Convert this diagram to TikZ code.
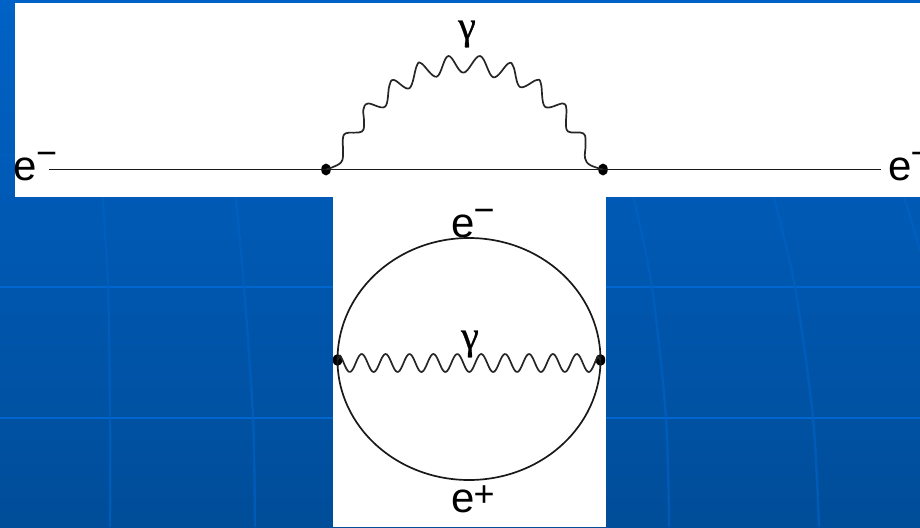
\documentclass[tikz,border=0pt]{standalone}
\usepackage{fontspec}
\setmainfont{Liberation Sans}
\newfontfamily\gammafont[FakeBold=0.7]{Liberation Serif}
\usetikzlibrary{shapes.geometric}
\definecolor{bgtop}{RGB}{0,98,198}
\definecolor{bgbot}{RGB}{0,77,153}
\definecolor{gridh}{RGB}{0,102,208}
\definecolor{gridv}{RGB}{0,96,192}
\newcommand{\elabel}[2]{e\kern-1pt\raisebox{#2}{\fontsize{36}{36}\selectfont #1}}
\tikzset{
  x=1pt,y=-1pt,
  panel/.style={fill=white,draw=none},
  gridline/.style={gridh,line width=2.6pt},
  gridcurve/.style={gridv,line width=2.4pt,opacity=0.75},
  fermion/.style={black!90,line width=1.7pt},
  photon/.style={black!85,line width=1.7pt,line join=round},
  vertexdot/.style={ellipse,fill=black,draw=none,minimum width=9.5pt,minimum height=12pt,inner sep=0pt},
  lepton/.style={font=\fontsize{42}{42}\selectfont,inner sep=0pt,anchor=base west},
  gammalabel/.style={font=\gammafont\fontsize{40}{40}\selectfont,inner sep=0pt,anchor=center}
}
\begin{document}
\begin{tikzpicture}
\useasboundingbox (0,0) rectangle (920,527);
% background
\shade[top color=bgtop,bottom color=bgbot,draw=none] (0,0) rectangle (920,527);
\foreach \yy in {27,155}{\draw[gridcurve] (0,\yy) -- (920,\yy);}
\foreach \yy in {287,418}{\draw[gridline] (0,\yy) -- (920,\yy);}
\draw[gridcurve] plot[smooth] coordinates {(102,190) (108,287) (110,418) (110,527)};
\draw[gridcurve] plot[smooth] coordinates {(235,190) (244,287) (253,418) (255,527)};
\draw[gridcurve] plot[smooth] coordinates {(632,190) (652,287) (666,418) (669,527)};
\draw[gridcurve] plot[smooth] coordinates {(772,190) (795,287) (813,418) (819,527)};
\draw[gridcurve] (902,190) -- (920,250);
% white panels
\fill[panel] (15,3) rectangle (920,197);
\fill[panel] (333,197) rectangle (606,527);
% top diagram
\node[vertexdot] (v1) at (326,169.5) {};
\node[vertexdot] (v2) at (603,169.5) {};
\node[lepton] (eL) at (13.5,180) {\elabel{−}{14.5pt}};
\node[lepton] (eR) at (888,180) {\elabel{−}{14.5pt}};
\coordinate (lineL) at (49,169.5);
\coordinate (lineR) at (881,169.5);
\draw[fermion] (lineL) -- (v1.center) -- (v2.center) -- (lineR);
\draw[photon] plot[smooth,tension=0.62] coordinates {
 (v1.center) (341,162.5) (343,150) (342.7,140) (346,133.2) (362,131.5) (364,120) (363.3,110)
 (368,103.5) (385,106.7) (389.3,86) (394,80) (409.3,88.3) (416.7,66)
 (421.5,63.5) (436.7,76.7) (448.3,56) (463.3,72.7) (480,56) (493.3,77.3)
 (508.3,63.5) (513.5,67) (520,87) (536.7,80) (541,84) (545,106.7)
 (563,103.5) (566.5,110) (566,120) (568,131.5) (583.5,133.5) (585.5,145) (585,158) (590,165) (v2.center)};
\node[gammalabel] (g1) at (467,34) {γ};
% lower diagram
\node[vertexdot] (w1) at (337.5,360) {};
\node[vertexdot] (w2) at (600.5,360) {};
\draw[fermion] (w1.center) arc[start angle=180,end angle=0,x radius=131.5,y radius=120];
\draw[fermion] (w1.center) arc[start angle=180,end angle=360,x radius=131.5,y radius=122];
\draw[photon] (w1.center) -- plot[domain=340:598,samples=200,smooth] (\x,{363-9*cos((\x-361.7)/23.9*360)}) -- (w2.center);
\node[gammalabel] (g2) at (470,344) {γ};
\node[lepton] (eT) at (451,237) {\elabel{−}{14.5pt}};
\node[lepton] (eB) at (451,512) {\elabel{+}{5.5pt}};
\end{tikzpicture}
\end{document}
